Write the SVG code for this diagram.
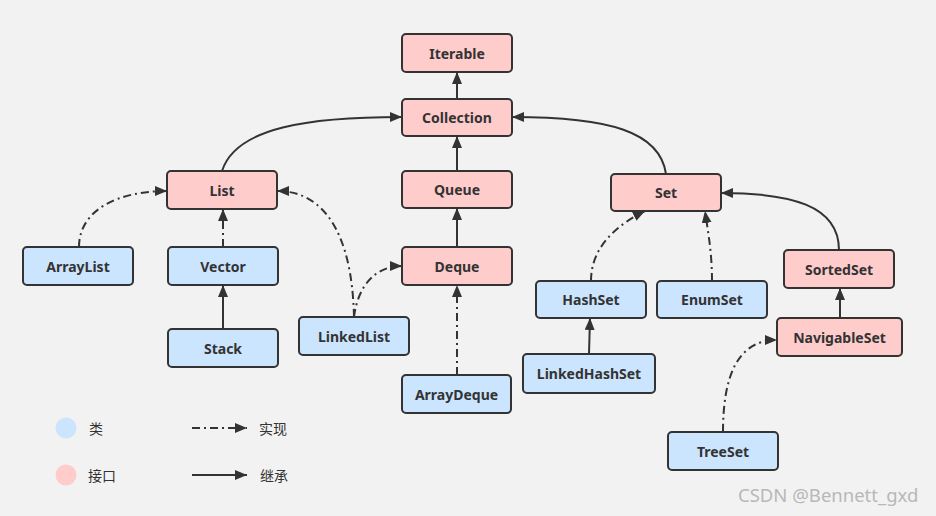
<svg xmlns="http://www.w3.org/2000/svg" width="936" height="516" viewBox="0 0 936 516">
<defs>
<marker id="arr" viewBox="0 0 12 10" refX="12" refY="5" markerWidth="12" markerHeight="10" markerUnits="userSpaceOnUse" orient="auto">
<path d="M0,0 L12,5 L0,10 Z" fill="#333"/>
</marker>
</defs>
<style>
.bg{fill:#f2f2f2}
.i rect{fill:#ffcccc;stroke:#333;stroke-width:2}
.c rect{fill:#cce5ff;stroke:#333;stroke-width:2}
.n text{font-family:"Noto Sans","Liberation Sans",sans-serif;font-size:14px;font-weight:bold;fill:#333;text-anchor:middle;dominant-baseline:central}
.e{fill:none;stroke:#333;stroke-width:2;marker-end:url(#arr)}
.d{stroke-dasharray:8,4,2,4}
.lg{font-family:"Noto Sans CJK SC","Noto Sans",sans-serif;font-size:14px;fill:#333;dominant-baseline:central}
.wm{font-family:"Noto Sans","Liberation Sans",sans-serif;font-size:18.5px;fill:#b8b8b8}
</style>
<rect class="bg" x="0" y="0" width="936" height="516"/>
<g id="connectors">
<path class="e" d="M457,99 L457,72"/>
<path class="e" d="M457,171 L457,136"/>
<path class="e" d="M457,247 L457,208"/>
<path class="e d" d="M457,375 L457,285"/>
<path class="e" d="M222,171 C236,127 310,117 402,117"/>
<path class="e" d="M666,174 C660,132 610,117 512,117"/>
<path class="e d" d="M79,247 C79,210 118,191 167,191"/>
<path class="e d" d="M223,247 L223,209"/>
<path class="e" d="M223,329 L223,285"/>
<path class="e d" d="M354,317 C352,230 322,191 277,191"/>
<path class="e d" d="M354,317 C358,285 376,266 402,266"/>
<path class="e d" d="M591,281 C591,248 615,226 645,211"/>
<path class="e d" d="M712,281 C712,252 708,232 705,211"/>
<path class="e" d="M589,354 L590,318"/>
<path class="e" d="M839,250 C839,205 790,193 721,193"/>
<path class="e" d="M840,318 L840,288"/>
<path class="e d" d="M723,432 C723,375 738,340 777,340"/>
<path class="e d" d="M192,428 L247,428"/>
<path class="e" d="M192,475 L247,475"/>
</g>
<g id="Iterable" class="n i"><rect x="402" y="34" width="110" height="38" rx="4"/><text x="457" y="53">Iterable</text></g>
<g id="Collection" class="n i"><rect x="402" y="99" width="110" height="37" rx="4"/><text x="457" y="117.5">Collection</text></g>
<g id="List" class="n i"><rect x="167" y="171" width="110" height="38" rx="4"/><text x="222" y="190">List</text></g>
<g id="Queue" class="n i"><rect x="402" y="171" width="110" height="37" rx="4"/><text x="457" y="189.5">Queue</text></g>
<g id="Set" class="n i"><rect x="611" y="174" width="110" height="37" rx="4"/><text x="666" y="192.5">Set</text></g>
<g id="Deque" class="n i"><rect x="402" y="247" width="110" height="38" rx="4"/><text x="457" y="266">Deque</text></g>
<g id="SortedSet" class="n i"><rect x="784" y="250" width="110" height="38" rx="4"/><text x="839" y="269">SortedSet</text></g>
<g id="NavigableSet" class="n i"><rect x="777" y="318" width="125" height="38" rx="4"/><text x="839.5" y="337">NavigableSet</text></g>
<g id="ArrayList" class="n c"><rect x="23" y="247" width="110" height="38" rx="4"/><text x="78" y="266">ArrayList</text></g>
<g id="Vector" class="n c"><rect x="168" y="247" width="110" height="38" rx="4"/><text x="223" y="266">Vector</text></g>
<g id="Stack" class="n c"><rect x="168" y="329" width="110" height="38" rx="4"/><text x="223" y="348">Stack</text></g>
<g id="LinkedList" class="n c"><rect x="299" y="317" width="110" height="38" rx="4"/><text x="354" y="336">LinkedList</text></g>
<g id="ArrayDeque" class="n c"><rect x="402" y="375" width="109" height="38" rx="4"/><text x="456.5" y="394">ArrayDeque</text></g>
<g id="HashSet" class="n c"><rect x="536" y="281" width="110" height="37" rx="4"/><text x="591" y="299.5">HashSet</text></g>
<g id="EnumSet" class="n c"><rect x="657" y="281" width="110" height="37" rx="4"/><text x="712" y="299.5">EnumSet</text></g>
<g id="LinkedHashSet" class="n c"><rect x="523" y="354" width="132" height="39" rx="4"/><text x="589" y="373.5">LinkedHashSet</text></g>
<g id="TreeSet" class="n c"><rect x="668" y="432" width="110" height="38" rx="4"/><text x="723" y="451">TreeSet</text></g>
<g id="legend">
<circle cx="66" cy="428" r="10.5" fill="#cce5ff"/>
<text class="lg" x="89" y="428">类</text>
<circle cx="66" cy="475" r="10.5" fill="#ffcccc"/>
<text class="lg" x="88" y="475">接口</text>
<text class="lg" x="259" y="428">实现</text>
<text class="lg" x="260" y="475">继承</text>
</g>
<text class="wm" x="738" y="502">CSDN @Bennett_gxd</text>
</svg>
